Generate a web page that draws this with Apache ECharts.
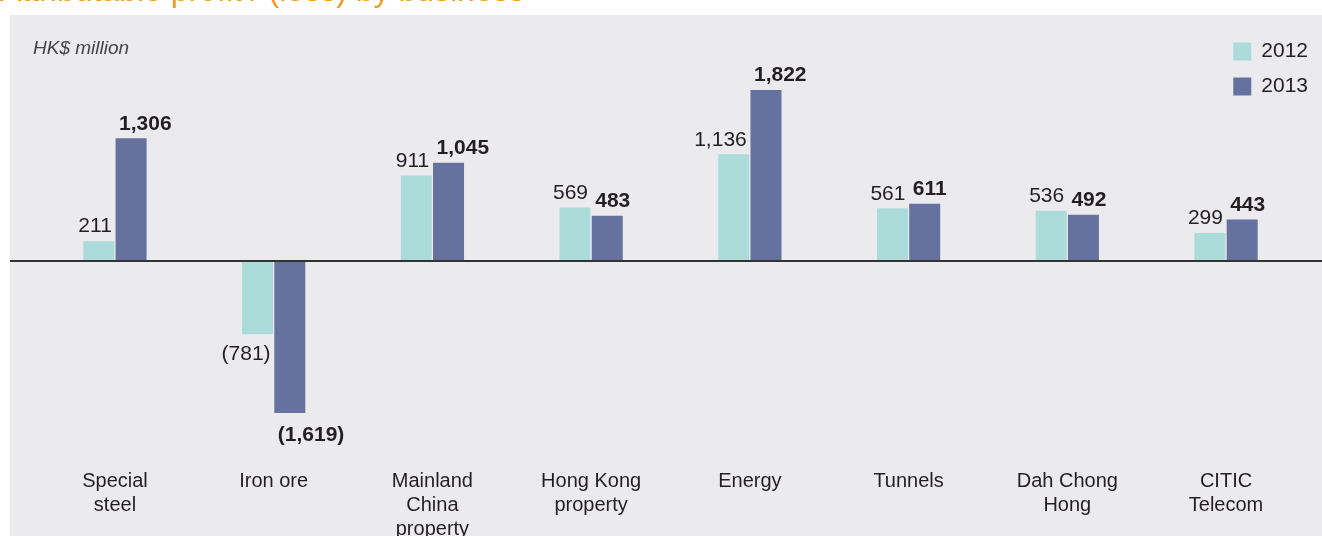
<!DOCTYPE html>
<html><head><meta charset="utf-8">
<script src="https://cdn.jsdelivr.net/npm/echarts@6/dist/echarts.min.js"></script>
<style>html,body{margin:0;padding:0;background:#fff}#c{width:1322px;height:536px}</style>
</head><body><div id="c"></div>
<script>
var categories = ['Special\nsteel', 'Iron ore', 'Mainland\nChina\nproperty', 'Hong Kong\nproperty', 'Energy', 'Tunnels', 'Dah Chong\nHong', 'CITIC\nTelecom'];
var values2012 = [211, -781, 911, 569, 1136, 561, 536, 299];
var values2013 = [1306, -1619, 1045, 483, 1822, 611, 492, 443];
var seriesNames = ['2012', '2013'];

var FONT = 'Liberation Sans';
var TXT = '#231f20';
function fmt(v) {
  var s = Math.abs(v).toString().replace(/\B(?=(\d{3})+(?!\d))/g, ',');
  return v < 0 ? '(' + s + ')' : s;
}
function build(vals, negDist) {
  return vals.map(function (v) {
    return {
      value: v,
      label: { position: v < 0 ? 'bottom' : 'top', distance: v < 0 ? negDist : 4 }
    };
  });
}
var chart = echarts.init(document.getElementById('c'), null, { renderer: 'canvas' });
var option = {
  animation: false,
  backgroundColor: '#ffffff',
  textStyle: { fontFamily: FONT },
  grid: { left: 35.6, right: 16.6, top: 73.2, bottom: 87.2, containLabel: false, outerBoundsMode: 'none' },
  legend: {
    orient: 'vertical', right: 14, top: 41, padding: 0, itemWidth: 18, itemHeight: 18, itemGap: 14,
    icon: 'rect',
    textStyle: { fontSize: 21, color: TXT, fontFamily: FONT, padding: [0, 0, 0, 5] },
    data: seriesNames
  },
  xAxis: {
    type: 'category', data: categories, position: 'bottom',
    axisLine: { show: false, onZero: false }, axisTick: { show: false },
    axisLabel: { fontSize: 20, lineHeight: 24, color: TXT, margin: 21, interval: 0, fontFamily: FONT, verticalAlign: 'top' },
    splitLine: { show: false }
  },
  yAxis: {
    type: 'value', min: -2000, max: 2000, show: false
  },
  graphic: [],
  series: [
    {
      name: seriesNames[0], type: 'bar', barWidth: 31, barGap: '4%',
      itemStyle: { color: '#abdcda' },
      label: {
        show: true, fontSize: 21, color: TXT, fontFamily: FONT, align: 'right', offset: [13, 0],
        formatter: function (p) { return fmt(p.value); }
      },
      data: build(values2012, 9)
    },
    {
      name: seriesNames[1], type: 'bar', barWidth: 31, barGap: '4%',
      itemStyle: { color: '#65719f' },
      label: {
        show: true, fontSize: 21, fontWeight: 'bold', color: TXT, fontFamily: FONT, align: 'left', offset: [-12, 0],
        formatter: function (p) { return fmt(p.value); }
      },
      data: build(values2013, 12)
    }
  ]
};
chart.setOption(option);
var zeroY = chart.convertToPixel({ yAxisIndex: 0 }, 0);
chart.setOption({
  graphic: [
    { type: 'rect', z: -10, silent: true, shape: { x: 10, y: 15, width: 1312, height: 521 }, style: { fill: '#ebebed' } },
    { type: 'text', z: 10, x: 0, y: 8, style: { text: 'Attributable profit / (loss) by business', fill: '#f39a1e', fontSize: 32, fontFamily: FONT, verticalAlign: 'bottom' } },
    { type: 'text', z: 10, x: 33, y: 49, style: { text: 'HK$ million', fill: '#444', fontSize: 19, fontStyle: 'italic', fontFamily: FONT, verticalAlign: 'middle' } },
    { type: 'line', z: 10, shape: { x1: 10, y1: zeroY, x2: 1322, y2: zeroY }, style: { stroke: '#333', lineWidth: 2 } }
  ]
});
</script></body></html>
